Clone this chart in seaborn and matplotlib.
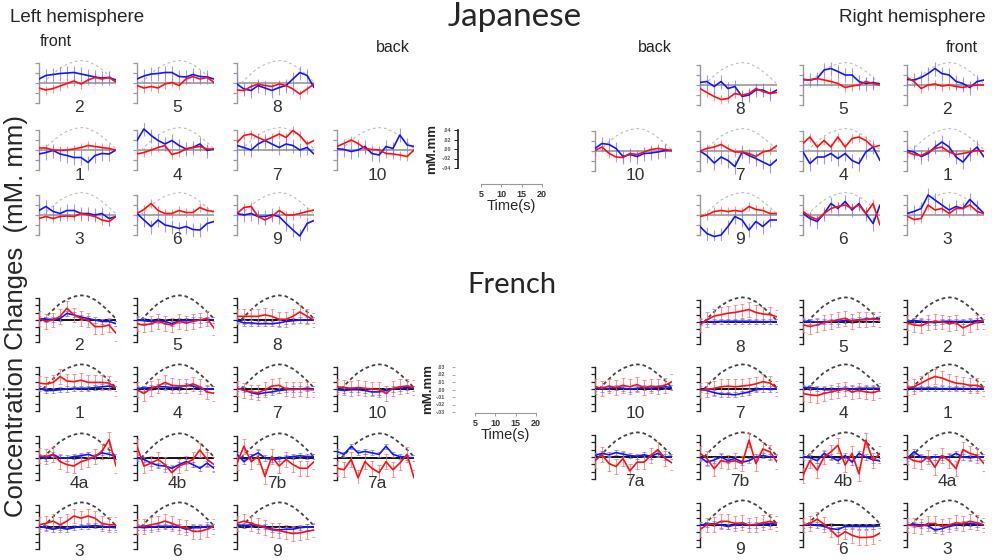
import matplotlib
matplotlib.use("Agg")
import matplotlib.pyplot as plt
import seaborn as sns

# time points (s) of every trace
time_s = [1.0, 2.7, 4.5, 6.2, 7.9, 9.6, 11.4, 13.1, 14.8, 16.5, 18.3, 20.0]

# expected response (dashed), as a fraction of the axis top
arc_time = [2, 4, 6, 8, 10, 11.5, 13, 15, 17, 19, 20]
arc_level = [0, 0.38, 0.72, 0.95, 1.08, 1.12, 1.08, 0.9, 0.6, 0.25, 0.05]

# ---- Japanese, values in 0.01 mM.mm ----
jp_left_red = {
    "2": [-1.0, -1.4, -1.1, -0.6, -0.1, 0.4, -0.2, 0.6, 1.1, 0.8, 1.1, 0.2],
    "5": [-0.5, -1.0, -0.7, -1.0, -0.2, 0.1, -0.5, 0.8, 1.3, 0.8, 1.1, 0.1],
    "8": [-1.4, -1.5, -0.7, -0.2, -0.5, -0.7, -0.2, -0.5, -1.2, -2.2, -1.2, -0.2],
    "1": [0.4, 0.4, 0.0, -0.1, 0.0, 0.2, 0.5, 0.9, 0.7, 0.5, 0.3, 0.0],
    "4": [-0.8, -0.5, 0.0, 0.5, 0.9, -0.9, -0.5, 0.2, 0.5, 0.7, 0.2, 0.2],
    "7": [1.5, 2.9, 3.2, 2.5, 1.9, 2.5, 3.2, 2.5, 3.9, 2.9, 1.2, 1.9],
    "10": [0.7, 1.3, 2.0, 1.3, 0.3, 0.1, 0.0, -0.7, -0.8, -1.0, -1.3, 0.0],
    "3": [-0.7, -0.3, -0.7, -0.3, -0.2, -0.3, 0.3, 0.0, -0.3, -1.0, -1.3, -0.3],
    "6": [0.3, 1.1, 2.3, 0.9, 0.3, 0.3, 0.9, 0.5, 0.5, 1.5, 0.9, 0.7],
    "9": [0.3, 1.5, 1.7, -0.3, -1.0, -0.3, 0.9, 0.0, 0.0, 0.3, 0.7, 1.0],
}
jp_left_blue = {
    "2": [0.8, 1.5, 1.7, 1.9, 2.0, 2.1, 1.8, 1.5, 1.2, 1.0, 1.1, 0.6],
    "5": [0.8, 1.4, 1.8, 1.9, 2.1, 2.1, 1.3, 1.2, 1.7, 1.3, 1.2, 0.8],
    "8": [-0.2, -1.2, -1.5, -0.5, -1.0, -1.5, -0.9, -0.5, 0.8, 2.1, 1.5, -0.9],
    "1": [-0.8, -0.5, -0.1, -0.8, -1.1, -1.5, -1.5, -2.5, -1.1, -0.7, -0.8, 0.0],
    "4": [1.9, 4.2, 2.9, 1.9, 1.2, 1.9, 0.9, 0.2, 0.5, 1.2, -0.1, 0.2],
    "7": [0.9, 0.5, 0.0, 1.2, 1.9, 1.2, 0.5, 1.2, 0.9, 0.0, 0.5, -0.8],
    "10": [0.3, 0.1, -0.3, 0.0, 0.7, -0.7, -1.0, 0.7, 0.3, 3.0, 1.0, 0.7],
    "3": [0.9, 1.7, 0.7, 0.3, 0.9, 0.9, 0.3, 0.3, 0.0, 0.3, -0.7, -0.3],
    "6": [0.3, -1.0, -2.3, -1.0, -2.0, -2.3, -2.7, -2.3, -2.9, -3.0, -1.7, -1.3],
    "9": [0.3, 0.0, 0.3, -0.3, -0.3, 0.0, -0.3, -1.7, -3.0, -4.2, -1.7, -1.1],
}
jp_right_red = {
    "8": [-0.7, -1.5, -2.3, -2.9, -2.7, -1.7, -2.0, -1.7, -0.7, -1.3, -1.7, -1.5],
    "5": [1.1, 1.0, 1.3, 1.0, 0.7, 0.3, -0.5, -0.2, 0.0, 0.7, 0.3, 0.0],
    "2": [1.5, 0.7, -0.7, 0.0, 0.2, -0.2, 0.0, -0.3, -0.5, -0.2, 0.0, 0.0],
    "10": [0.1, 0.8, -0.5, -1.2, -1.3, -0.5, -0.7, -0.2, 0.3, 0.5, 0.3, 0.1],
    "7": [0.0, 0.5, 0.8, 1.3, 0.5, -0.2, -0.2, -0.5, -1.1, -0.2, 0.1, 1.1],
    "4": [1.5, 2.8, 0.8, 2.1, 0.8, 2.8, 0.8, 2.5, 2.8, 2.1, 0.8, 1.1],
    "1": [-0.2, -0.7, -0.9, -0.2, 0.5, 0.8, -0.2, -0.7, -0.5, -0.2, 0.1, 0.0],
    "9": [-0.3, 0.0, 0.7, 0.9, 0.7, 0.9, 0.7, 1.7, 1.1, 0.9, 0.3, 0.3],
    "6": [0.7, -0.3, -0.9, 0.3, 1.3, 1.7, 2.0, 1.3, 2.0, 0.3, 2.3, -2.0],
    "3": [-0.2, -0.9, -0.7, 2.0, 1.0, 1.3, 0.3, 1.3, 1.3, 2.0, 0.7, 0.3],
}
jp_right_blue = {
    "8": [0.5, 0.7, -0.3, 0.7, -0.7, -0.3, -2.3, -2.0, -1.0, -1.0, -1.7, -1.0],
    "5": [1.1, 1.0, 1.3, 3.0, 3.3, 2.7, 2.0, 2.0, 0.7, 0.3, 0.5, 0.2],
    "2": [1.1, 1.0, 1.5, 2.3, 3.3, 2.3, 2.0, 0.7, 0.3, -0.5, 0.7, 1.0],
    "10": [0.5, 1.5, 1.3, 0.5, -1.1, -0.7, -1.1, -0.5, -0.4, -0.2, 0.1, 0.1],
    "7": [0.0, -0.9, -2.4, -1.2, -1.9, -3.1, -0.2, -0.9, -1.5, -2.2, -2.9, -1.7],
    "4": [-0.2, -2.5, -1.2, -1.2, -0.5, -1.5, -0.5, -1.9, -2.5, -0.2, 0.8, -1.9],
    "1": [0.1, -0.2, -1.1, -0.5, 0.8, 1.8, 0.8, -1.2, -2.2, -0.5, 0.8, -1.2],
    "9": [-2.3, -3.7, -4.3, -4.0, -2.3, -0.3, -1.0, -3.0, -1.3, -2.3, -1.0, -1.0],
    "6": [0.3, -0.7, -1.3, 0.3, 2.3, 1.3, 2.7, 1.0, 2.3, 0.3, -1.7, 2.0],
    "3": [0.3, 0.7, 1.3, 4.0, 3.0, 2.0, 1.0, 1.7, 1.3, 3.1, 1.7, 0.3],
}

# ---- French, values in 0.01 mM.mm ----
fr_left_red = {
    "2": [0.2, -0.2, 0.0, 0.5, 1.6, 0.7, 0.2, 0.0, -0.9, -0.9, -0.7, -1.8],
    "5": [-0.5, -0.7, -0.5, -0.2, -0.5, -0.7, -0.2, -0.4, -0.2, 0.0, 0.2, -1.1],
    "8": [0.5, 0.5, 0.5, 0.5, 0.7, 0.5, 0.1, 0.1, 0.5, 1.1, 0.5, 0.0],
    "1": [0.8, 0.7, 0.9, 1.7, 1.1, 1.0, 1.2, 0.9, 0.9, 0.9, 0.8, 0.1],
    "4": [-0.1, -0.6, 0.1, 0.4, 0.9, 0.5, 0.4, 0.4, 0.7, 0.3, -0.4, -0.6],
    "7": [0.1, -0.2, -0.4, -0.5, -0.1, 0.4, 0.5, 0.0, -0.1, 0.0, -0.1, -0.1],
    "10": [0.3, 0.2, 0.1, 0.2, 0.1, 0.0, -0.1, -0.6, 0.1, 0.3, 0.4, 0.2],
    "4a": [0.3, 0.2, 0.5, -0.5, -0.9, -1.1, -0.5, -0.2, 0.2, 0.9, 2.5, -1.1],
    "4b": [1.6, -1.1, -0.7, -0.2, -0.9, -2.0, -1.1, -0.7, -0.2, 1.1, -0.2, -0.9],
    "7b": [-0.7, 1.6, -0.5, 0.2, -2.5, 0.2, -1.1, -0.2, -0.9, -1.4, -1.4, -0.5],
    "7a": [-1.4, -1.6, -0.2, -2.7, -0.5, -1.4, -2.0, -0.5, -1.6, -0.7, 0.5, -2.7],
    "3": [0.3, 0.5, 0.8, 0.3, 0.8, 1.5, 1.2, 1.5, 1.2, 0.5, 0.3, 0.3],
    "6": [0.1, 0.1, 0.3, 0.5, 0.8, 0.5, 0.1, -0.1, -0.6, -0.6, -0.3, 0.1],
    "9": [0.5, 0.8, 0.5, 0.2, -0.1, -0.4, -0.5, -0.7, -0.9, -0.8, -0.6, -0.4],
}
fr_left_blue = {
    "2": [0.2, 0.1, 0.1, 0.2, 0.9, 0.7, 0.4, 0.2, 0.0, -0.2, -0.2, -0.5],
    "5": [0.0, -0.1, -0.2, -0.1, -0.2, -0.5, -0.1, -0.1, 0.0, 0.0, 0.1, 0.0],
    "8": [-0.1, -0.4, -0.4, -0.5, -0.5, -0.5, -0.4, -0.2, -0.1, 0.0, 0.0, 0.0],
    "1": [0.1, -0.2, -0.2, -0.1, 0.0, 0.1, 0.1, 0.1, 0.2, 0.3, 0.4, 0.1],
    "4": [0.1, 0.1, 0.2, 0.3, 0.3, 0.2, 0.2, 0.5, 0.4, 0.1, 0.0, 0.0],
    "7": [0.1, -0.1, -0.5, -0.7, -0.5, -0.4, -0.2, -0.1, 0.0, 0.0, 0.1, 0.0],
    "10": [-0.1, -0.2, -0.1, -0.1, -0.2, -0.4, -0.4, -0.2, 0.0, 0.1, 0.2, 0.1],
    "4a": [0.2, -0.1, 0.5, 0.0, 0.0, 0.2, 0.3, 0.5, 0.2, 0.7, 0.5, 0.2],
    "4b": [0.0, -0.2, -0.7, -1.0, -1.1, -1.4, -0.9, -0.5, -0.9, -1.4, -0.7, -1.4],
    "7b": [0.5, -0.5, 0.2, 0.7, 0.0, -0.2, -0.1, 0.1, 0.2, 0.3, 0.2, 0.2],
    "7a": [0.9, 0.5, 1.6, 0.7, 0.9, 0.7, 0.5, 1.6, 0.5, 0.2, 0.1, 0.0],
    "3": [0.1, -0.1, -0.3, -0.1, -0.3, -0.1, 0.1, 0.1, 0.2, 0.1, 0.0, -0.1],
    "6": [0.0, -0.1, 0.0, 0.1, 0.1, 0.1, 0.0, -0.3, -0.1, -0.1, 0.1, 0.1],
    "9": [0.3, 0.2, 0.3, 0.1, 0.1, -0.3, -0.4, -0.3, -0.3, -0.1, 0.0, 0.0],
}
fr_right_red = {
    "8": [-0.4, 0.3, 0.8, 1.0, 1.2, 1.3, 1.5, 1.7, 1.3, 1.1, 1.0, 0.7],
    "5": [-0.4, -0.6, -0.4, -0.1, 0.1, 0.3, 0.5, 0.1, 0.3, 0.3, 0.4, 0.3],
    "2": [-0.1, -0.4, -0.5, -0.1, 0.1, 0.0, -0.2, -0.1, -0.8, -0.4, 0.0, 0.1],
    "10": [0.3, 0.1, 0.4, 0.2, 0.5, 0.3, 0.6, 0.2, 0.4, 0.3, 0.5, 1.0],
    "7": [-0.2, -0.1, 0.1, 0.3, 0.4, 0.3, 0.4, 0.5, 0.7, 1.0, 0.8, 0.1],
    "4": [-0.6, -0.8, -0.9, -0.6, -0.4, -0.2, 0.0, -0.4, -0.2, -0.4, -0.5, -0.2],
    "1": [0.2, 0.3, 0.8, 1.3, 1.7, 1.5, 1.1, 0.8, 0.7, 0.5, 0.5, 0.1],
    "7a": [-0.5, 0.3, -0.9, -1.3, -0.2, -1.9, -0.7, -0.7, 0.2, 1.0, -0.2, -0.8],
    "7b": [0.5, -0.2, -1.6, -0.5, -0.7, -0.5, -0.9, 2.3, -0.9, 1.1, 0.7, -0.7],
    "4b": [-2.5, -0.5, -1.8, 0.0, 0.7, 1.6, -1.1, 0.5, -2.3, 2.3, -0.5, 0.5],
    "4a": [0.0, -0.5, -0.7, 0.0, -1.4, 0.2, -0.5, -1.6, 1.0, 0.5, 0.2, -0.9],
    "9": [-0.6, 0.0, 0.1, 0.5, 0.5, 0.2, 0.3, 0.0, 0.1, 0.3, 0.5, 0.2],
    "6": [0.0, 0.2, 0.8, 0.1, -0.7, -1.6, -0.9, -1.4, -1.7, -1.7, -1.6, -1.1],
    "3": [0.0, -0.1, -0.2, 0.2, 0.2, -0.2, 0.0, 0.3, 0.2, 0.5, 0.3, 0.0],
}
fr_right_blue = {
    "8": [0.0, 0.05, 0.05, 0.1, 0.1, 0.1, 0.1, 0.1, 0.05, 0.05, 0.05, 0.05],
    "5": [0.1, 0.1, 0.0, 0.05, 0.1, 0.1, 0.2, 0.2, 0.3, 0.4, 0.4, 0.5],
    "2": [0.1, 0.2, 0.1, 0.0, -0.1, 0.1, 0.1, 0.05, 0.1, 0.05, 0.2, 0.1],
    "10": [0.1, 0.0, 0.1, 0.2, 0.1, 0.0, 0.1, 0.2, 0.1, 0.2, 0.3, 0.2],
    "7": [0.0, -0.2, -0.5, -0.7, -0.7, -0.8, -0.6, -0.4, -0.1, 0.0, 0.0, 0.0],
    "4": [0.2, 0.2, 0.1, -0.1, -0.1, 0.0, 0.1, 0.0, 0.1, 0.1, 0.1, 0.1],
    "1": [0.2, 0.1, 0.1, 0.1, 0.1, 0.05, 0.05, 0.1, 0.05, 0.05, 0.05, 0.05],
    "7a": [0.2, 0.5, 0.3, 0.6, 0.4, 0.2, 0.1, 0.3, 0.1, 0.5, 0.0, 0.1],
    "7b": [0.0, -0.7, -0.4, 0.0, -0.5, -0.2, -0.7, -0.5, 0.0, 0.2, 0.0, 0.0],
    "4b": [0.0, -0.1, -0.5, 0.5, 0.0, -0.5, 0.2, -0.7, 0.5, 0.0, -0.4, -0.5],
    "4a": [-0.2, 0.7, 0.0, -0.2, 0.0, -0.1, 0.0, 0.5, 0.0, -0.1, 0.0, 0.0],
    "9": [0.0, 0.1, 0.2, 0.0, -0.2, 0.0, 0.1, 0.0, 0.0, 0.1, 0.2, 0.1],
    "6": [0.0, 0.1, 0.0, -0.2, -0.5, -0.6, -0.2, -0.2, -0.2, -0.2, -0.2, -0.1],
    "3": [0.0, 0.1, 0.0, -0.1, -0.7, -0.5, -0.2, 0.0, 0.2, 0.2, 0.1, 0.0],
}

# error bar half-widths (0.01 mM.mm)
jp_err_red, jp_err_blue = 0.9, 1.4
fr_err_red, fr_err_blue = 1.0, 0.35

# channel layout, as printed
jp_left_rows = [["2", "5", "8"], ["1", "4", "7", "10"], ["3", "6", "9"]]
jp_right_rows = [["8", "5", "2"], ["10", "7", "4", "1"], ["9", "6", "3"]]
fr_left_rows = [["2", "5", "8"], ["1", "4", "7", "10"],
                ["4a", "4b", "7b", "7a"], ["3", "6", "9"]]
fr_right_rows = [["8", "5", "2"], ["10", "7", "4", "1"],
                 ["7a", "7b", "4b", "4a"], ["9", "6", "3"]]

# scale key ticks (mM.mm)
jp_scale_ticks = [-0.04, -0.02, 0.0, 0.02, 0.04]
fr_scale_ticks = [-0.03, -0.02, -0.01, 0.0, 0.01, 0.02, 0.03]
time_ticks = [5, 10, 15, 20]

sns.set_theme(style="white")
plt.rcParams["font.family"] = ["Liberation Sans", "DejaVu Sans"]

W, H = 992, 560
fig = plt.figure(figsize=(W / 100, H / 100), dpi=100)

STYLE = {
    "jp": dict(top=4, ylim=(-5.2, 5.5), ppu=5.0, spine="#9a9a9a", zero="#a0a0a0",
               arc="#bdbdbd", arc_lw=0.8, arc_dash=(2.5, 2.5), cap=0,
               err_red=jp_err_red, err_blue=jp_err_blue, ticks=[-4, -2, 0, 2, 4]),
    "fr": dict(top=3, ylim=(-3.6, 3.6), ppu=44 / 6, spine="#222222", zero="#000000",
               arc="#444444", arc_lw=1.3, arc_dash=(2, 1.6), cap=1.2,
               err_red=fr_err_red, err_blue=fr_err_blue,
               ticks=[-3, -2, -1, 0, 1, 2, 3]),
}
PANEL_W = 77


def panel(x0, y0, red, blue, label, lang):
    s = STYLE[lang]
    lo, hi = s["ylim"]
    h_px = (hi - lo) * s["ppu"]
    bottom_px = y0 - lo * s["ppu"]
    ax = fig.add_axes([x0 / W, 1 - bottom_px / H, PANEL_W / W, h_px / H])
    ax.set_xlim(1, 20)
    ax.set_ylim(lo, hi)
    ax.patch.set_alpha(0)

    ax.axhline(0, color=s["zero"], lw=1.3, zorder=1)
    ax.plot(arc_time, [v * s["top"] for v in arc_level], color=s["arc"],
            lw=s["arc_lw"], dashes=s["arc_dash"], zorder=2, clip_on=False)

    ax.errorbar(time_s, red, yerr=s["err_red"], fmt="none", ecolor="#ff7070",
                elinewidth=0.8, capsize=s["cap"], capthick=0.7, alpha=0.75, zorder=3)
    ax.errorbar(time_s, blue, yerr=s["err_blue"], fmt="none", ecolor="#7878ff",
                elinewidth=0.8, capsize=s["cap"], capthick=0.7, alpha=0.75, zorder=3)
    sns.lineplot(x=time_s, y=red, ax=ax, color="#ff1010", lw=1.2, zorder=5)
    sns.lineplot(x=time_s, y=blue, ax=ax, color="#1515ff", lw=1.2, zorder=4)

    for side in ["top", "right", "bottom"]:
        ax.spines[side].set_visible(False)
    ax.spines["left"].set_bounds(-s["top"], s["top"])
    ax.spines["left"].set_color(s["spine"])
    ax.spines["left"].set_linewidth(1.0)
    ax.set_yticks(s["ticks"])
    ax.set_yticklabels([])
    ax.set_xticks([])
    ax.tick_params(axis="y", left=True, direction="out", length=3, width=0.9,
                   color=s["spine"])
    ax.set_xlabel("")
    ax.set_ylabel("")
    fig.text((x0 + 40) / W, 1 - (y0 + 25) / H, label, ha="center", va="center",
             fontsize=12.5, color="#333333")


left_x = [39, 137, 237, 337]
right_x3 = [700, 803, 907]
right_x4 = [595, 700, 803, 907]

for rows, zero_y, red_d, blue_d, lang, side in [
    (jp_left_rows, [83, 150, 215], jp_left_red, jp_left_blue, "jp", "L"),
    (jp_right_rows, [85, 151, 215], jp_right_red, jp_right_blue, "jp", "R"),
    (fr_left_rows, [320, 389, 458, 527], fr_left_red, fr_left_blue, "fr", "L"),
    (fr_right_rows, [322, 389, 457, 525], fr_right_red, fr_right_blue, "fr", "R"),
]:
    for r, row in enumerate(rows):
        if side == "L":
            xs = left_x[:len(row)]
        else:
            xs = right_x4 if len(row) == 4 else right_x3
        for x0, ch in zip(xs, row):
            panel(x0, zero_y[r], red_d[ch], blue_d[ch], ch, lang)


def tick_text(t):
    txt = f"{abs(t):.2f}".lstrip("0")
    return "-" + txt if t < 0 else txt


def scale_key(ticks, y_top, y_bot, x_spine, show_spine, x_lab, t_x0, t_x1, t_y, lab_y):
    ax = fig.add_axes([x_spine / W, 1 - y_bot / H, 1 / W, (y_bot - y_top) / H])
    ax.set_ylim(ticks[0], ticks[-1])
    ax.set_yticks(ticks)
    ax.set_yticklabels([tick_text(t) for t in ticks], fontsize=3.8,
                       fontweight="bold", color="#555")
    ax.set_xticks([])
    for side in ["top", "right", "bottom"]:
        ax.spines[side].set_visible(False)
    ax.spines["left"].set_visible(show_spine)
    ax.spines["left"].set_color("#222")
    ax.tick_params(axis="y", left=True, direction="out",
                   length=3 if show_spine else 2, width=0.7,
                   color="#222" if show_spine else "#aaa",
                   pad=2 if show_spine else 5)
    ax.patch.set_alpha(0)
    fig.text(x_lab / W, 1 - (y_top + y_bot) / 2 / H, "mM.mm", rotation=90,
             ha="center", va="center", fontsize=9.5, fontweight="bold")

    tx = fig.add_axes([t_x0 / W, 1 - t_y / H, (t_x1 - t_x0) / W, 1 / H])
    tx.set_xlim(5, 20)
    tx.set_xticks(time_ticks)
    tx.set_xticklabels([str(t) for t in time_ticks], fontsize=6.5,
                       fontweight="bold", color="#333")
    tx.set_yticks([])
    for side in ["top", "right", "left"]:
        tx.spines[side].set_visible(False)
    tx.spines["bottom"].set_color("#999")
    tx.spines["bottom"].set_linewidth(0.8)
    tx.tick_params(axis="x", bottom=True, direction="out", length=2.5, width=0.7,
                   color="#999", pad=1.5)
    tx.patch.set_alpha(0)
    fig.text((t_x0 + t_x1) / 2 / W, 1 - lab_y / H, "Time(s)", ha="center",
             va="center", fontsize=10.5)


scale_key(jp_scale_ticks, 130, 168, 458, True, 432, 481, 542, 184, 206)
scale_key(fr_scale_ticks, 367, 412, 455, False, 428, 475, 536, 413, 435)

title_font = ["Lato", "DejaVu Sans"]
fig.text(515 / W, 1 - 17 / H, "Japanese", ha="center", va="center",
         fontsize=24, family=title_font)
fig.text(512 / W, 1 - 285 / H, "French", ha="center", va="center",
         fontsize=21, family=title_font)
fig.text(10 / W, 1 - 17 / H, "Left hemisphere", ha="left", va="center",
         fontsize=13.5)
fig.text(986 / W, 1 - 17 / H, "Right hemisphere", ha="right", va="center",
         fontsize=13.5)
fig.text(40 / W, 1 - 42 / H, "front", ha="left", va="center", fontsize=11.5)
fig.text(393 / W, 1 - 47 / H, "back", ha="center", va="center", fontsize=11.5)
fig.text(655 / W, 1 - 47 / H, "back", ha="center", va="center", fontsize=11.5)
fig.text(962 / W, 1 - 47 / H, "front", ha="center", va="center", fontsize=11.5)
fig.text(16 / W, 1 - 316 / H, "Concentration Changes  (mM. mm)", rotation=90,
         ha="center", va="center", fontsize=18.5)

fig.savefig("out.png", dpi=100)
